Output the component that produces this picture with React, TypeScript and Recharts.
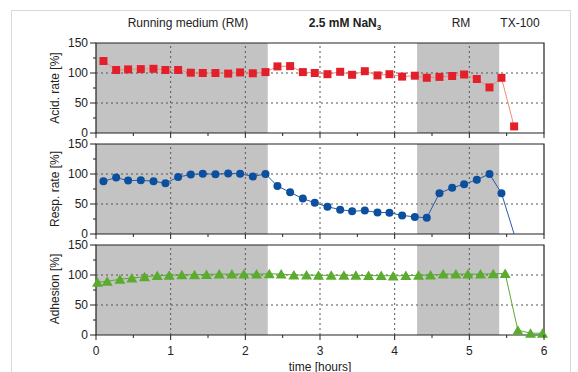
import React from "react";
import { LineChart, Line, XAxis, YAxis, ReferenceArea, ReferenceLine } from "recharts";

// acidification rate (red squares)
const acidTime = [0.1, 0.27, 0.43, 0.6, 0.77, 0.93, 1.1, 1.27, 1.43, 1.6, 1.77, 1.93, 2.1, 2.27, 2.43, 2.6, 2.77, 2.93, 3.1, 3.27, 3.43, 3.6, 3.77, 3.93, 4.1, 4.27, 4.43, 4.6, 4.77, 4.93, 5.1, 5.27, 5.43, 5.6];
const acidRate = [120, 105, 106, 106.5, 107, 105, 105, 100.5, 100, 100, 99, 101, 99.5, 101.5, 111, 111.5, 101.5, 100, 98, 102, 97, 103, 96, 98, 94, 95.5, 92, 93.5, 95, 97.5, 90, 76, 92, 11];

// respiration rate (blue circles)
const respTime = [0.1, 0.27, 0.43, 0.6, 0.77, 0.93, 1.1, 1.27, 1.43, 1.6, 1.77, 1.93, 2.1, 2.27, 2.43, 2.6, 2.77, 2.93, 3.1, 3.27, 3.43, 3.6, 3.77, 3.93, 4.1, 4.27, 4.43, 4.6, 4.77, 4.93, 5.1, 5.27, 5.43, 5.6];
const respRate = [88, 94, 89, 89.5, 88, 84.5, 95, 99, 100.5, 99.5, 101, 100.5, 96, 100, 80, 69.5, 59, 52, 45.5, 40.5, 38, 39, 36, 35.5, 31, 28.5, 27, 68, 77, 83, 90.5, 100, 68, 0];

// adhesion (green triangles)
const adhTime = [0.02, 0.15, 0.32, 0.48, 0.65, 0.82, 0.98, 1.15, 1.32, 1.48, 1.65, 1.82, 1.98, 2.15, 2.32, 2.48, 2.65, 2.82, 2.98, 3.15, 3.32, 3.48, 3.65, 3.82, 3.98, 4.15, 4.32, 4.48, 4.65, 4.82, 4.98, 5.15, 5.32, 5.48, 5.65, 5.82, 5.98];
const adhesion = [88, 89.5, 93, 95, 97, 99, 99.5, 100.5, 100.5, 101, 101.5, 101.5, 101.5, 101.5, 102, 101.5, 100, 100, 99.5, 99.5, 99.5, 99.5, 99, 99, 98.5, 99, 99.5, 100, 101.5, 101.5, 101.5, 101.5, 102, 102.5, 8, 3, 3];

const xTicks = [0, 0.5, 1, 1.5, 2, 2.5, 3, 3.5, 4, 4.5, 5, 5.5, 6];
const yTicks = [0, 25, 50, 75, 100, 125, 150];
const gridX = [1, 2, 3, 4, 5];
const gridY = [50, 100];
const bands = [
  [0, 2.3],
  [4.3, 5.4],
];

const FONT = '"Liberation Sans", Arial, sans-serif';

const toRows = (t: number[], v: number[]) => t.map((x, i) => ({ t: x, v: v[i] }));

const XTick = (props: any) => {
  const { x, y, payload, showLabel } = props;
  const major = Number.isInteger(payload.value);
  return (
    <g>
      <line x1={x} x2={x} y1={y} y2={y + (major ? 5 : 3)} stroke="#222" />
      {showLabel && major && (
        <text x={x} y={y + 20} textAnchor="middle" fontSize={12} fontFamily={FONT} fill="#222">
          {payload.value}
        </text>
      )}
    </g>
  );
};

const YTick = (props: any) => {
  const { x, y, payload } = props;
  const major = payload.value % 50 === 0;
  return (
    <g>
      <line x1={x - (major ? 6 : 3)} x2={x} y1={y} y2={y} stroke="#222" />
      {major && (
        <text x={x - 8} y={y + 4} textAnchor="end" fontSize={12} fontFamily={FONT} fill="#222">
          {payload.value}
        </text>
      )}
    </g>
  );
};

const squareDot = (p: any) => (
  <rect key={`s${p.index}`} x={p.cx - 4} y={p.cy - 4} width={8} height={8} fill="#e3202a" />
);
const circleDot = (p: any) =>
  p.value > 0 ? (
    <circle key={`c${p.index}`} cx={p.cx} cy={p.cy} r={4} fill="#0b4f9e" />
  ) : (
    <g key={`c${p.index}`} />
  );
const triangleDot = (p: any) => (
  <polygon
    key={`t${p.index}`}
    points={`${p.cx - 5.5},${p.cy + 4.5} ${p.cx + 5.5},${p.cy + 4.5} ${p.cx},${p.cy - 5}`}
    fill="#5aab2e"
  />
);

function Panel({ top, height, rows, lineColor, dot, showLabel }: any) {
  return (
    <div style={{ position: "absolute", left: 0, top }}>
      <LineChart width={578} height={height} data={rows} margin={{ top: 43, right: 34, bottom: 0, left: 0 }}>
        {bands.map(([a, b]) => (
          <ReferenceArea key={`b${a}`} x1={a} x2={b} y1={0} y2={150} fill="#c3c3c3" fillOpacity={1} stroke="none" />
        ))}
        {gridX.map((g) => (
          <ReferenceLine key={`gx${g}`} x={g} stroke="#555" strokeDasharray="2 3" />
        ))}
        {gridY.map((g) => (
          <ReferenceLine key={`gy${g}`} y={g} stroke="#555" strokeDasharray="2 3" />
        ))}
        <ReferenceArea x1={0} x2={6} y1={0} y2={150} fill="none" stroke="#222" strokeWidth={1.2} />
        <XAxis
          type="number"
          dataKey="t"
          domain={[0, 6]}
          ticks={xTicks}
          interval={0}
          height={height - 133}
          axisLine={false}
          tickLine={false}
          tickSize={0}
          tickMargin={0}
          tick={(p: any) => <XTick {...p} showLabel={showLabel} />}
        />
        <YAxis
          type="number"
          domain={[0, 150]}
          ticks={yTicks}
          interval={0}
          width={96}
          axisLine={false}
          tickLine={false}
          tickSize={0}
          tickMargin={0}
          tick={(p: any) => <YTick {...p} />}
        />
        <Line
          type="linear"
          dataKey="v"
          stroke={lineColor}
          strokeWidth={1}
          dot={dot}
          activeDot={false}
          isAnimationActive={false}
        />
      </LineChart>
    </div>
  );
}

const yLabel = (text: string, cy: number) => (
  <div
    style={{
      position: "absolute",
      left: 55,
      top: cy,
      transform: "translate(-50%, -50%) rotate(-90deg)",
      whiteSpace: "nowrap",
      fontSize: 12,
      color: "#222",
    }}
  >
    {text}
  </div>
);

const header = (content: React.ReactNode, cx: number, bold = false) => (
  <div
    style={{
      position: "absolute",
      left: cx,
      top: 16,
      transform: "translateX(-50%)",
      whiteSpace: "nowrap",
      fontSize: 12,
      lineHeight: "14px",
      fontWeight: bold ? "bold" : "normal",
      color: "#222",
    }}
  >
    {content}
  </div>
);

export default function App() {
  return (
    <div
      style={{
        position: "absolute",
        left: 0,
        top: 0,
        width: 578,
        height: 372,
        overflow: "hidden",
        background: "#fff",
        fontFamily: FONT,
      }}
    >
      <div
        style={{
          position: "absolute",
          left: 11,
          top: 10,
          width: 558,
          height: 420,
          border: "1px solid #d9d9d9",
        }}
      />
      {header("Running medium (RM)", 188)}
      {header(
        <span>
          2.5 mM NaN<sub style={{ fontSize: 8, verticalAlign: "-3px" }}>3</sub>
        </span>,
        345,
        true
      )}
      {header("RM", 461)}
      {header("TX-100", 520)}

      <Panel top={0} height={150} rows={toRows(acidTime, acidRate)} lineColor="#f28a76" dot={squareDot} showLabel={false} />
      <Panel top={101} height={150} rows={toRows(respTime, respRate)} lineColor="#2a5aa8" dot={circleDot} showLabel={false} />
      <Panel top={202} height={170} rows={toRows(adhTime, adhesion)} lineColor="#5aab2e" dot={triangleDot} showLabel={true} />

      {yLabel("Acid. rate [%]", 88)}
      {yLabel("Resp. rate [%]", 189)}
      {yLabel("Adhesion [%]", 289)}

      <div
        style={{
          position: "absolute",
          left: 320,
          top: 360,
          transform: "translateX(-50%)",
          whiteSpace: "nowrap",
          fontSize: 12,
          lineHeight: "14px",
          color: "#222",
        }}
      >
        time [hours]
      </div>
    </div>
  );
}
